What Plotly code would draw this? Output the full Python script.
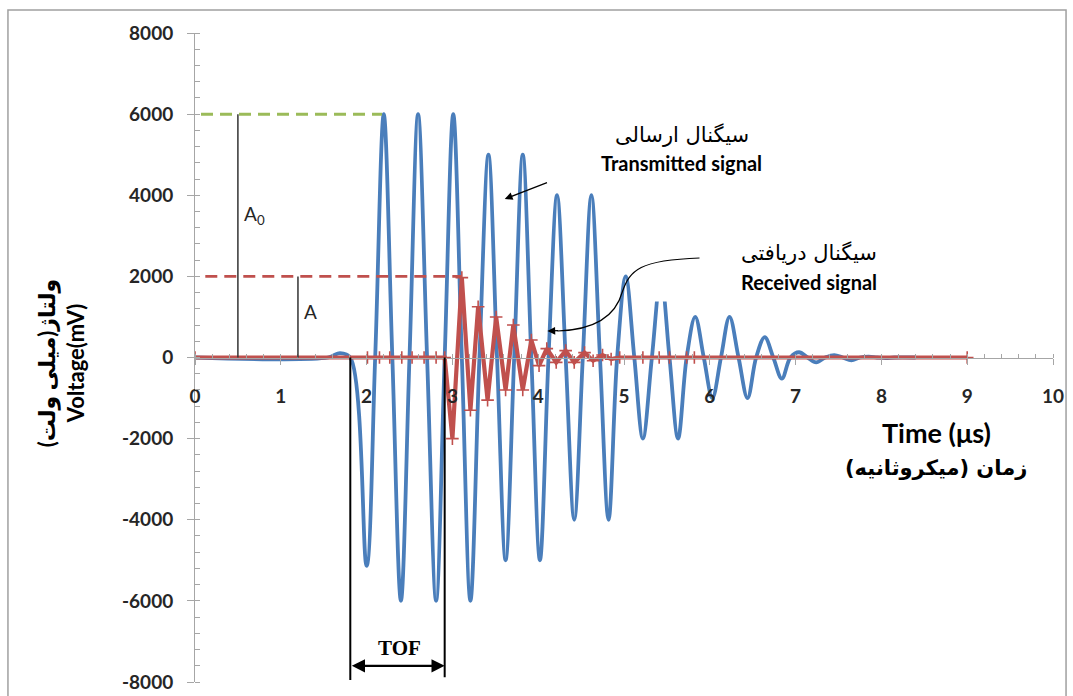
import plotly.graph_objects as go

# ---------------- data ----------------
# Transmitted signal (blue): extremes and zero crossings
blue_t = [0.0, 1.55, 1.69, 1.81, 2.0, 2.1, 2.2, 2.3, 2.4, 2.5, 2.6, 2.705, 2.81, 2.91,
          3.01, 3.11, 3.21, 3.315, 3.42, 3.52, 3.62, 3.72, 3.82, 3.92, 4.02, 4.12,
          4.22, 4.32, 4.42, 4.52, 4.62, 4.72, 4.82, 4.92, 5.02, 5.12, 5.22, 5.325,
          5.43, 5.53, 5.63, 5.73, 5.83, 5.93, 6.03, 6.13, 6.23, 6.335, 6.44, 6.54,
          6.64, 6.74, 6.84, 6.94, 7.04, 7.14, 7.24, 7.345, 7.45, 7.55, 7.65, 7.75,
          7.85, 7.95, 8.05, 8.15, 8.4]
blue_v = [0, 0, 110, 0, -5136, 0, 6000, 0, -6000, 0, 6000, 0, -6000, 0,
          6000, 0, -6000, 0, 5000, 0, -5000, 0, 5000, 0, -5000, 0,
          4000, 0, -4000, 0, 4000, 0, -4000, 0, 2000, 0, -2000, 0,
          2000, 0, -2000, 0, 1000, 0, -1000, 0, 1000, 0, -1000, 0,
          500, 0, -520, 0, 130, 0, -120, 0, 60, 0, -70, 0,
          20, 0, -15, 0, 0]

# Received signal (red)
red_t = [0.0, 2.01, 2.15, 2.27, 2.41, 2.53, 2.67, 2.81, 2.91, 3.0, 3.11, 3.21, 3.30,
         3.41, 3.51, 3.62, 3.71, 3.82, 3.92, 4.01, 4.10, 4.21, 4.32, 4.42, 4.54,
         4.64, 4.75, 4.85, 4.95, 5.22, 5.41, 5.53, 5.73, 5.82, 9.0]
red_v = [0, 0, 0, 0, 0, 0, 0, 0, 0, -2000, 1970, -1300, 1250,
         -1050, 1000, -800, 800, -800, 430, -200, 220, -120, 170, -120, 120,
         -80, 60, -40, 0, 0, 0, 0, 0, 0, 0]

x_ticks = [0, 1, 2, 3, 4, 5, 6, 7, 8, 9, 10]
x_tick_labels = ["0", "1", "2", "3", "4", "5", "6", "7", "8", "9", "10"]
y_ticks = [-8000, -6000, -4000, -2000, 0, 2000, 4000, 6000, 8000]
y_tick_labels = ["-8000", "-6000", "-4000", "-2000", "0", "2000", "4000", "6000", "8000"]

A0_level = 6000
A_level = 2000
tof_start = 1.81
tof_end = 2.91

BLUE = "#4A7EBB"
RED = "#C0504D"
GREEN = "#9BBB59"
AXIS = "#A6A6A6"
TXT = "#262626"
EN = "Lato, DejaVu Sans, sans-serif"
FA = "DejaVu Sans, sans-serif"
RLM = "\u200f"

fig = go.Figure()
fig.add_trace(go.Scatter(x=blue_t, y=blue_v, mode="lines",
                         line=dict(color=BLUE, width=3.8, shape="spline", smoothing=1),
                         hoverinfo="skip"))
fig.add_trace(go.Scatter(x=red_t, y=red_v, mode="lines+markers",
                         line=dict(color=RED, width=4.2),
                         marker=dict(symbol="cross-thin", size=9,
                                     line=dict(color=RED, width=1.6)),
                         hoverinfo="skip"))

shapes = []
# outer chart frame
shapes.append(dict(type="rect", xref="paper", yref="paper", x0=-0.218, x1=1.0152,
                   y0=-0.05, y1=1.0354, line=dict(color="#A0A0A0", width=1.5),
                   fillcolor="rgba(0,0,0,0)", layer="below"))
# white text-box patch hiding the top of one blue peak
shapes.append(dict(type="rect", xref="x", yref="y", x0=5.3, x1=5.58, y0=1380, y1=2300,
                   fillcolor="white", line=dict(width=0), layer="above"))
# dashed amplitude levels
shapes.append(dict(type="line", xref="x", yref="y", x0=0.07, x1=2.18, y0=A0_level, y1=A0_level,
                   line=dict(color=GREEN, width=3, dash="12px,7px")))
shapes.append(dict(type="line", xref="x", yref="y", x0=0.12, x1=3.1, y0=A_level, y1=A_level,
                   line=dict(color=RED, width=2.6, dash="12px,7px")))
# amplitude bars
shapes.append(dict(type="line", xref="x", yref="y", x0=0.5, x1=0.5, y0=0, y1=A0_level,
                   line=dict(color="#333333", width=1.5)))
shapes.append(dict(type="line", xref="x", yref="y", x0=1.2, x1=1.2, y0=0, y1=A_level,
                   line=dict(color="#333333", width=1.5)))
# TOF bounds
shapes.append(dict(type="line", xref="x", yref="y", x0=tof_start, x1=tof_start, y0=0, y1=-7950,
                   line=dict(color="black", width=2)))
shapes.append(dict(type="line", xref="x", yref="y", x0=tof_end, x1=tof_end, y0=0, y1=-7880,
                   line=dict(color="black", width=2)))
# curved arrow for received signal
shapes.append(dict(type="path", xref="x", yref="y",
                   path="M 5.88,2453 C 5.18,2403 5.07,2157 4.98,1615 C 4.89,924 4.60,678 4.225,653",
                   line=dict(color="black", width=1.2)))

annotations = []
annotations.append(dict(x=3.61, y=3907, ax=4.12, ay=4326, axref="x", ayref="y", xref="x", yref="y",
                        text="", showarrow=True, arrowhead=2, arrowsize=1.3, arrowwidth=1.2,
                        arrowcolor="black"))
annotations.append(dict(x=4.107, y=653, ax=4.25, ay=662, axref="x", ayref="y", xref="x", yref="y",
                        text="", showarrow=True, arrowhead=2, arrowsize=1.3, arrowwidth=1.2,
                        arrowcolor="black"))
annotations.append(dict(x=tof_end, y=-7600, ax=tof_start, ay=-7600, axref="x", ayref="y",
                        xref="x", yref="y", text="", showarrow=True, arrowhead=2, arrowside="end+start",
                        arrowsize=1.2, arrowwidth=2.2, arrowcolor="black", standoff=0, startstandoff=0))
annotations.append(dict(x=2.38, y=-7170, xref="x", yref="y", text="<b>TOF</b>", showarrow=False,
                        font=dict(family="Liberation Serif, serif", size=21, color="black")))
annotations.append(dict(x=0.69, y=3513, xref="x", yref="y", text="A<sub>0</sub>", showarrow=False,
                        font=dict(family=EN, size=19, color=TXT)))
annotations.append(dict(x=1.35, y=1122, xref="x", yref="y", text="A", showarrow=False,
                        font=dict(family=EN, size=19, color=TXT)))
annotations.append(dict(x=5.68, y=5486, xref="x", yref="y", text=RLM + "سیگنال ارسالی" + RLM,
                        showarrow=False, font=dict(family=FA, size=21, color="black")))
annotations.append(dict(x=5.67, y=4795, xref="x", yref="y", text="<b>Transmitted signal</b>",
                        showarrow=False, font=dict(family=EN, size=20, color="black")))
annotations.append(dict(x=7.16, y=2576, xref="x", yref="y", text=RLM + "سیگنال دریافتی" + RLM,
                        showarrow=False, font=dict(family=FA, size=21, color="black")))
annotations.append(dict(x=7.16, y=1861, xref="x", yref="y", text="<b>Received signal</b>",
                        showarrow=False, font=dict(family=EN, size=20, color="black")))
annotations.append(dict(x=8.64, y=-1861, xref="x", yref="y", text="<b>Time (μs)</b>",
                        showarrow=False, font=dict(family=EN, size=27, color="black")))
annotations.append(dict(x=8.64, y=-2724, xref="x", yref="y",
                        text="<b>" + RLM + "زمان (میکروثانیه)" + RLM + "</b>",
                        showarrow=False, font=dict(family=FA, size=21, color="black")))
annotations.append(dict(x=-0.156, y=0.4915, xref="paper", yref="paper", textangle=-90,
                        xanchor="center", yanchor="middle",
                        text="<b>" + RLM + "ولتاژ(میلی ولت)" + RLM + "</b><br><b>Voltage(mV)</b>",
                        showarrow=False, font=dict(family=EN, size=22, color="black")))

fig.update_layout(
    width=1073, height=696,
    margin=dict(l=195, r=20, t=33, b=14, autoexpand=False),
    plot_bgcolor="white", paper_bgcolor="white",
    showlegend=False, hovermode=False,
    shapes=shapes, annotations=annotations,
    xaxis=dict(range=[0, 10], anchor="free", position=0.5, automargin=False,
               tickmode="array", tickvals=x_ticks, ticktext=x_tick_labels,
               showline=True, linecolor=AXIS, linewidth=1,
               ticks="outside", ticklen=6, tickcolor=AXIS,
               minor=dict(tickmode="linear", tick0=0, dtick=0.2, ticks="inside", ticklen=4, tickcolor=AXIS),
               showgrid=False, zeroline=False, ticklabelstandoff=16,
               tickfont=dict(family=EN, size=19, color=TXT, weight="bold")),
    yaxis=dict(range=[-8000, 8000], automargin=False,
               tickmode="array", tickvals=y_ticks, ticktext=y_tick_labels,
               showline=True, linecolor=AXIS, linewidth=1,
               ticks="outside", ticklen=7, tickcolor=AXIS,
               minor=dict(tickmode="linear", tick0=0, dtick=400, ticks="inside", ticklen=5, tickcolor=AXIS),
               showgrid=False, zeroline=False, ticklabelstandoff=10,
               tickfont=dict(family=EN, size=19, color=TXT, weight="bold")),
)

fig.write_html("out.html")
